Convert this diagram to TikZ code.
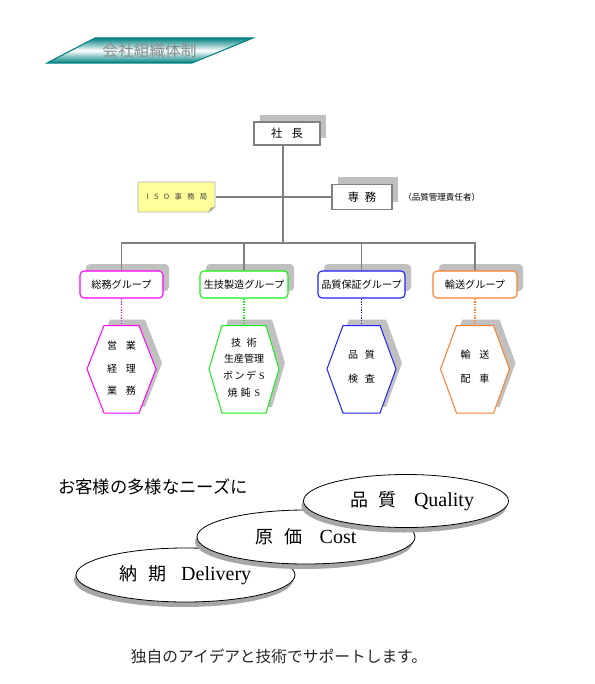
\documentclass[tikz,border=0pt]{standalone}
\usepackage{fontspec}
\setmainfont{Liberation Serif}
\newfontfamily\jp{Noto Sans CJK JP}
\usetikzlibrary{shapes.geometric,shadows,calc}
\definecolor{lg}{RGB}{128,128,128}
\definecolor{shdc}{RGB}{192,192,192}
\definecolor{mag}{RGB}{255,0,255}
\definecolor{grn}{RGB}{20,240,20}
\definecolor{blu}{RGB}{30,30,255}
\definecolor{org}{RGB}{255,125,40}
\definecolor{isoY}{RGB}{255,255,153}
\definecolor{teal1}{RGB}{0,128,128}
\begin{document}
\begin{tikzpicture}[x=0.75pt,y=-0.75pt,
  conn/.style={draw=lg,line width=1.1pt},
  shd/.style={drop shadow={shadow xshift=4.5pt,shadow yshift=5.25pt,fill=shdc,opacity=1}},
  box/.style={draw=lg,line width=0.8pt,fill=white,inner sep=0pt,shd,font=\jp\fontsize{8.5}{10}\selectfont},
  grp/.style={draw=#1,line width=0.8pt,fill=white,inner sep=0pt,rounded corners=3pt,shd,minimum height=20.25pt,font=\jp\fontsize{7.6}{9}\selectfont},
  hex/.style={draw=#1,line width=0.75pt,fill=white,drop shadow={shadow xshift=4.5pt,shadow yshift=4.5pt,fill=shdc,opacity=1}},
  hext/.style={inner sep=0pt,align=center},
  dots/.style={draw=#1,line width=1.3pt,dash pattern=on 1pt off 1pt},
  ell/.style={ellipse,draw=black,line width=0.6pt,fill=white,inner sep=0pt,drop shadow={shadow xshift=-1.5pt,shadow yshift=-3.75pt,fill=black!35,opacity=1},font=\fontsize{15}{18}\selectfont}
]
\useasboundingbox (0,0) rectangle (594,684);

% title banner
\path[draw=teal1,line width=0.8pt,top color=teal1,bottom color=teal1,middle color=white]
  (47,63) -- (95,38) -- (253,38) -- (192,63) -- cycle;
\node[font=\jp\fontsize{11.8}{14}\selectfont,text=black!45] (title) at (149.5,50.5) {会社組織体制};

% top boxes
\node[box,minimum width=49.5pt,minimum height=17.25pt] (boss) at (287,133.5) {社\hspace{0.8em}長};
\node[box,minimum width=45pt,minimum height=18.75pt] (senmu) at (362,197) {専\hspace{0.5em}務};
\node[font=\jp\fontsize{6.4}{7}\selectfont,anchor=west,inner sep=0pt] (note) at (403,197) {（品質管理責任者）};

% ISO box
\filldraw[fill=isoY,draw=black!30,line width=0.6pt] (138,182) -- (215,182) -- (215,207) -- (209,212) -- (138,212) -- cycle;
\filldraw[fill=isoY!70!black,draw=black!30,line width=0.4pt] (209,212) -- (210.5,208) -- (215,207) -- cycle;
\node[minimum width=57.75pt,minimum height=22.5pt,inner sep=0pt,font=\jp\fontsize{5.5}{6}\selectfont,text=black!75] (iso) at (177,197)
  {I\hspace{4pt}S\hspace{4pt}O\hspace{4pt}事\hspace{4pt}務\hspace{4pt}局};

% group boxes
\node[grp=mag,minimum width=62.25pt] (g1) at (121.5,284.5) {総務グループ};
\node[grp=grn,minimum width=66pt] (g2) at (244,284.5) {生技製造グループ};
\node[grp=blu,minimum width=65.25pt] (g3) at (361.5,284.5) {品質保証グループ};
\node[grp=org,minimum width=63pt] (g4) at (475,284.5) {輸送グループ};

% hexagons
\draw[hex=mag] (104,325.5) -- (139,325.5) -- (156,369) -- (139,413) -- (104,413) -- (87,369) -- cycle;
\draw[hex=grn] (222,325.5) -- (266,325.5) -- (279,369) -- (266,413) -- (222,413) -- (209,369) -- cycle;
\draw[hex=blu] (343,325.5) -- (380,325.5) -- (396,369) -- (380,413) -- (343,413) -- (327,369) -- cycle;
\draw[hex=org] (456.5,325.5) -- (493.5,325.5) -- (509.5,369) -- (493.5,413) -- (456.5,413) -- (440.5,369) -- cycle;
\coordinate (h1) at (121.5,325.5);
\coordinate (h2) at (244,325.5);
\coordinate (h3) at (361.5,325.5);
\coordinate (h4) at (475,325.5);

\node[hext,font=\jp\fontsize{7.5}{16.9}\selectfont] (t1) at (121.5,368.5)
  {営\hspace{0.9em}業\\経\hspace{0.9em}理\\業\hspace{0.9em}務};
\node[hext,font=\jp\fontsize{7.5}{12.5}\selectfont] (t2) at (244,367.5)
  {技\hspace{0.6em}術\\生産管理\\ボ\hspace{0.15em}ン\hspace{0.15em}デ\hspace{0.3em}{\rmfamily S}\\焼\hspace{0.3em}鈍\hspace{0.4em}{\rmfamily S}};
\node[hext,font=\jp\fontsize{7.5}{17.6}\selectfont] (t3) at (361.5,366.5)
  {品\hspace{0.7em}質\\検\hspace{0.7em}査};
\node[hext,font=\jp\fontsize{7.5}{17.6}\selectfont] (t4) at (475,366.5)
  {輸\hspace{0.9em}送\\配\hspace{0.9em}車};

% connectors
\coordinate (busy) at (0,243);
\coordinate (trunk) at (283,243);
\draw[conn] (boss.south -| trunk) -- (trunk);
\draw[conn] (g1.north) -- (g1.north |- busy) -- (g4.north |- busy) -- (g4.north);
\draw[conn] (g2.north) -- (g2.north |- busy);
\draw[conn] (g3.north) -- (g3.north |- busy);
\draw[conn] (iso.east) -- (senmu.west);
\draw[dots=mag] (g1.south) -- (h1);
\draw[dots=grn] (g2.south) -- (h2);
\draw[dots=blu] (g3.south) -- (h3);
\draw[dots=org] (g4.south) -- (h4);

% needs
\node[anchor=west,inner sep=0pt,font=\jp\fontsize{13}{15}\selectfont] (needs) at (58,487) {お客様の多様なニーズに};
\node[ell,minimum width=164.25pt,minimum height=40.5pt] (deliv) at (185.5,575)
  {{\jp\fontsize{13.5}{16}\selectfont 納\hspace{8pt}期}\hspace{11pt}Delivery};
\node[ell,minimum width=163.5pt,minimum height=40.5pt] (cost) at (306,537)
  {{\jp\fontsize{13.5}{16}\selectfont 原\hspace{8pt}価}\hspace{13pt}Cost};
\node[ell,minimum width=153.75pt,minimum height=39.75pt] (qual) at (406,501)
  {\hspace{9pt}{\jp\fontsize{13.5}{16}\selectfont 品\hspace{8pt}質}\hspace{13pt}Quality};

\node[font=\jp\fontsize{11.8}{14}\selectfont,text=black!85] (support) at (279,656) {独自のアイデアと技術でサポートします。};
\end{tikzpicture}
\end{document}
